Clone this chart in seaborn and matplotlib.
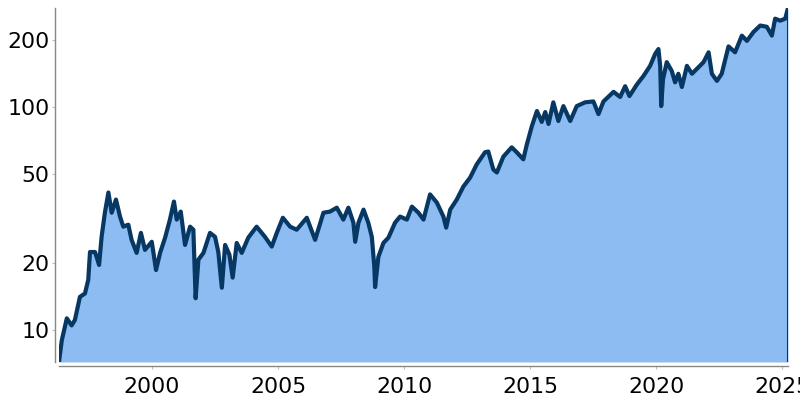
import numpy as np
import pandas as pd
import matplotlib
matplotlib.use("Agg")
import matplotlib.pyplot as plt
import seaborn as sns
from matplotlib.ticker import FixedLocator, NullLocator, FuncFormatter

# Price history (decimal year, price)
years = [
    1996.31, 1996.42, 1996.62, 1996.81, 1996.94, 1997.14, 1997.34, 1997.47, 1997.54, 1997.74,
    1997.90, 1998.00, 1998.13, 1998.27, 1998.40, 1998.57, 1998.73, 1998.86, 1999.06, 1999.19,
    1999.39, 1999.56, 1999.72, 1999.99, 2000.16, 2000.32, 2000.52, 2000.71, 2000.87, 2000.98,
    2001.14, 2001.31, 2001.51, 2001.64, 2001.73, 2001.84, 2002.04, 2002.30, 2002.50, 2002.63,
    2002.77, 2002.90, 2003.07, 2003.20, 2003.36, 2003.56, 2003.82, 2004.15, 2004.48, 2004.75,
    2004.95, 2005.19, 2005.48, 2005.74, 2006.14, 2006.47, 2006.80, 2007.06, 2007.33, 2007.59,
    2007.79, 2007.99, 2008.06, 2008.19, 2008.39, 2008.58, 2008.72, 2008.82, 2008.85, 2008.98,
    2009.18, 2009.38, 2009.64, 2009.84, 2010.11, 2010.31, 2010.57, 2010.77, 2011.03, 2011.30,
    2011.56, 2011.67, 2011.83, 2012.09, 2012.35, 2012.62, 2012.88, 2013.21, 2013.34, 2013.54,
    2013.68, 2013.94, 2014.27, 2014.47, 2014.73, 2014.87, 2015.07, 2015.27, 2015.46, 2015.60,
    2015.73, 2015.92, 2016.12, 2016.32, 2016.59, 2016.85, 2017.18, 2017.51, 2017.71, 2017.91,
    2018.31, 2018.57, 2018.77, 2018.94, 2019.23, 2019.50, 2019.76, 2019.96, 2020.09, 2020.16,
    2020.20, 2020.27, 2020.42, 2020.62, 2020.75, 2020.88, 2021.02, 2021.22, 2021.42, 2021.68,
    2021.88, 2022.08, 2022.21, 2022.41, 2022.60, 2022.87, 2023.13, 2023.40, 2023.60, 2023.86,
    2024.13, 2024.39, 2024.59, 2024.72, 2024.92, 2025.12, 2025.23,
]
prices = [
    7.2, 9.0, 11.3, 10.5, 11.1, 14.1, 14.6, 16.8, 22.4, 22.4,
    19.6, 26.2, 33.6, 41.4, 33.6, 38.5, 32.3, 29.1, 29.7, 25.4,
    22.2, 27.3, 22.9, 24.9, 18.6, 22.2, 26.0, 31.3, 37.7, 31.3,
    34.0, 24.1, 29.1, 28.2, 13.9, 20.7, 22.2, 27.3, 26.2, 22.4,
    15.5, 24.1, 21.8, 17.2, 24.6, 22.2, 26.0, 29.1, 26.2, 23.7,
    27.3, 31.9, 29.1, 28.2, 31.9, 25.4, 33.6, 34.0, 35.4, 31.3,
    35.4, 30.3, 24.9, 30.3, 34.7, 30.3, 26.2, 19.2, 15.6, 21.3,
    24.6, 26.0, 30.3, 32.3, 31.3, 35.8, 33.6, 31.3, 40.6, 37.3,
    32.3, 28.8, 34.7, 38.5, 44.0, 48.3, 55.3, 62.7, 63.2, 52.5,
    50.9, 60.0, 66.0, 62.7, 58.3, 68.0, 82.2, 96.0, 85.8, 95.0,
    84.0, 105, 86.6, 101, 86.6, 101, 105, 106, 93, 106,
    117, 111, 124, 112, 126, 138, 153, 173, 182, 153,
    101, 133, 159, 145, 129, 141, 123, 153, 141, 151,
    159, 176, 141, 131, 141, 187, 176, 209, 198, 217,
    232, 229, 209, 249, 244, 249, 278,
]
year_ticks = [2000, 2005, 2010, 2015, 2020, 2025]
price_ticks = [10, 20, 50, 100, 200]

df = pd.DataFrame({"year": years, "price": prices})

line_color = "#073763"
fill_color = "#8cbcf1"
axis_color = "#888888"

sns.set_style("ticks")
plt.rcParams['font.family'] = ['DejaVu Sans']

fig = plt.figure(figsize=(8, 4), dpi=100)
ax = fig.add_axes([59 / 800, 1 - 362 / 400, (788 - 59) / 800, (362 - 8) / 400])

ax.set_yscale("log")
ymin, ymax = df["price"].min(), df["price"].max()
ax.fill_between(df["year"], ymin, df["price"], color=fill_color, lw=0)
sns.lineplot(data=df, x="year", y="price", color=line_color, lw=3.0, ax=ax)
ax.vlines(df["year"].iloc[-1], ymin, df["price"].iloc[-1], color=line_color, lw=1.5)

ax.set_xlim(df["year"].min(), df["year"].max())
ax.set_ylim(ymin, ymax)

ax.xaxis.set_major_locator(FixedLocator(year_ticks))
ax.xaxis.set_major_formatter(FuncFormatter(lambda v, p: f"{int(round(v))}"))
ax.yaxis.set_major_locator(FixedLocator(price_ticks))
ax.yaxis.set_minor_locator(NullLocator())
ax.yaxis.set_major_formatter(FuncFormatter(lambda v, p: f"{int(round(v))}"))

ax.set_xlabel("")
ax.set_ylabel("")
sns.despine(ax=ax, offset=3)
for side in ["left", "bottom"]:
    ax.spines[side].set_color(axis_color)
    ax.spines[side].set_linewidth(1)
ax.tick_params(axis="both", colors="#bbbbbb", labelcolor="black", labelsize=15.8,
               length=2.2, width=0.8)
ax.tick_params(axis="x", pad=5.5)
ax.tick_params(axis="y", pad=1.5)

fig.savefig("out.png", dpi=100)
